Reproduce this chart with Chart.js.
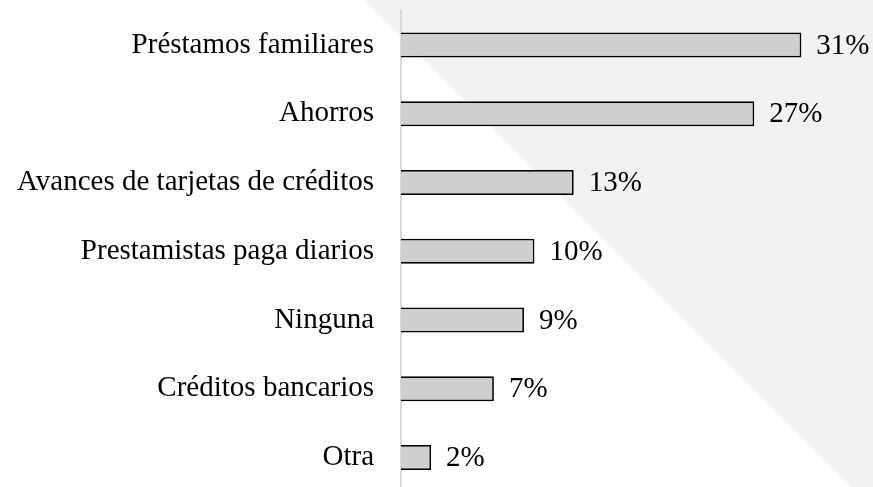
<!DOCTYPE html>
<html>
<head>
<meta charset="utf-8">
<script src="https://cdn.jsdelivr.net/npm/chart.js@4/dist/chart.umd.min.js"></script>
<style>
html,body{margin:0;padding:0;overflow:hidden;background:#fff;}
#wrap{position:relative;width:873px;height:492px;}
</style>
</head>
<body>
<div id="wrap"><canvas id="c"></canvas></div>
<script>
const categories = [
  "Préstamos familiares",
  "Ahorros",
  "Avances de tarjetas de créditos",
  "Prestamistas paga diarios",
  "Ninguna",
  "Créditos bancarios",
  "Otra"
];
const values = [30.6, 27.0, 13.2, 10.2, 9.4, 7.1, 2.3];
const valueLabels = ["31%", "27%", "13%", "10%", "9%", "7%", "2%"];

const FONT = "'Liberation Serif', 'Times New Roman', serif";

const bgPlugin = {
  id: 'bgShape',
  beforeDraw(chart) {
    const ctx = chart.ctx;
    ctx.save();
    ctx.fillStyle = '#ffffff';
    ctx.fillRect(0, 0, chart.width, chart.height);
    ctx.fillStyle = '#f2f2f2';
    ctx.beginPath();
    ctx.moveTo(365, 0);
    ctx.lineTo(chart.width, 0);
    ctx.lineTo(chart.width, 487);
    ctx.lineTo(852, 487);
    ctx.closePath();
    ctx.fill();
    ctx.restore();
  }
};

const labelPlugin = {
  id: 'valueLabels',
  afterDatasetsDraw(chart) {
    const ctx = chart.ctx;
    const meta = chart.getDatasetMeta(0);
    ctx.save();
    ctx.font = '29px ' + FONT;
    ctx.fillStyle = '#000';
    ctx.textAlign = 'left';
    ctx.textBaseline = 'middle';
    meta.data.forEach((bar, i) => {
      ctx.fillText(valueLabels[i], bar.x + 15, bar.y + 1);
    });
    ctx.restore();
  }
};

new Chart(document.getElementById('c'), {
  type: 'bar',
  data: {
    labels: categories,
    datasets: [{
      data: values,
      backgroundColor: '#d0cece',
      borderColor: '#000000',
      borderWidth: 1.75,
      borderSkipped: 'start',
      categoryPercentage: 1,
      barPercentage: 0.3635
    }]
  },
  options: {
    indexAxis: 'y',
    responsive: true,
    maintainAspectRatio: false,
    animation: false,
    events: [],
    layout: { padding: { top: 10.6, right: 1, bottom: 0, left: 0 } },
    plugins: { legend: { display: false }, tooltip: { enabled: false }, title: { display: false } },
    scales: {
      x: {
        display: false,
        min: 0,
        max: 36
      },
      y: {
        z: 1,
        afterFit(axis) { axis.width = 401; axis.paddingTop = 0; axis.paddingBottom = 0; },
        grid: { display: false, drawTicks: false },
        border: { display: true, color: '#d9d9d9', width: 2 },
        ticks: {
          padding: 27,
          color: '#000',
          font: { family: FONT, size: 29 }
        }
      }
    }
  },
  plugins: [bgPlugin, labelPlugin]
});
</script>
</body>
</html>
